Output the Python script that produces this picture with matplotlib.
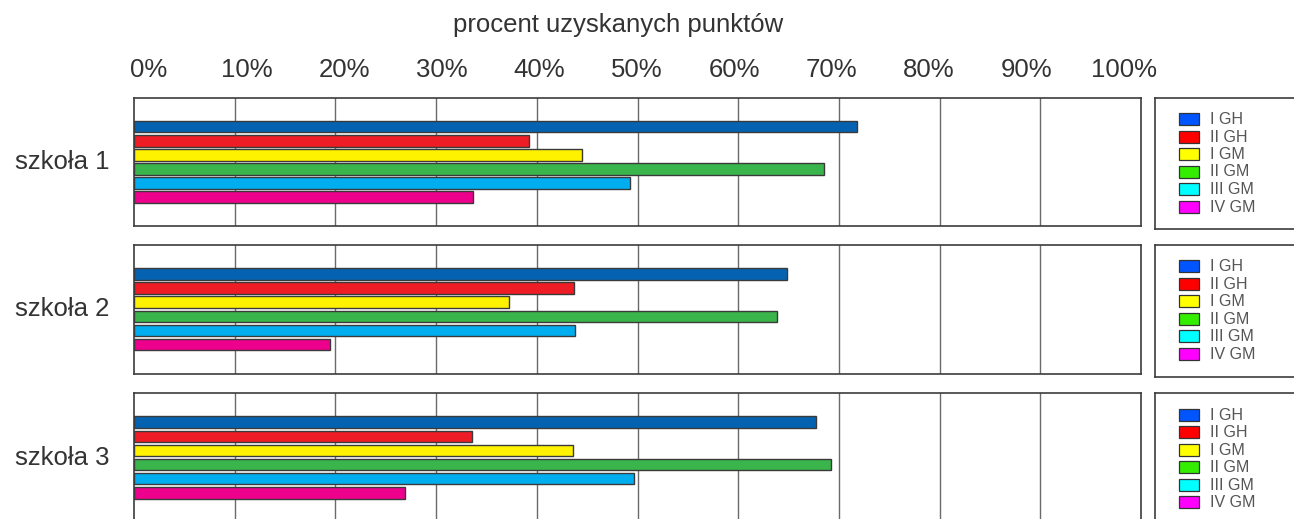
import matplotlib
matplotlib.use("Agg")
import matplotlib.pyplot as plt
from matplotlib.patches import Rectangle

plt.rcParams['font.family'] = ['Liberation Sans', 'DejaVu Sans']

schools = ["szkoła 1", "szkoła 2", "szkoła 3"]
series = ["I GH", "II GH", "I GM", "II GM", "III GM", "IV GM"]
vals_s1 = [71.8, 39.2, 44.5, 68.5, 49.3, 33.7]
vals_s2 = [64.8, 43.7, 37.2, 63.9, 43.8, 19.5]
vals_s3 = [67.7, 33.6, 43.6, 69.2, 49.7, 26.9]
values = [vals_s1, vals_s2, vals_s3]
bar_colors = ["#0562B0", "#EE1D25", "#FFF200", "#3AB54B", "#00AEEF", "#EC008C"]
legend_colors = ["#0055FF", "#FF0000", "#FFFF00", "#33EE00", "#00FFFF", "#FF00FF"]
tick_vals = list(range(0, 101, 10))
tick_labels = [f"{v}%" for v in tick_vals]
title = "procent uzyskanych punktów"

W, H = 1294, 519
fig = plt.figure(figsize=(W / 100, H / 100), dpi=100)

def fx(px):
    return px / W

def fy(py_top, h):
    return 1 - (py_top + h) / H

panel_tops = [97.7, 245.0, 393.3]
panel_h = 128.5
x0, x1 = 134, 1141

for i, top in enumerate(panel_tops):
    ax = fig.add_axes([fx(x0), fy(top, panel_h), fx(x1 - x0), panel_h / H])
    ys = list(range(len(series)))
    ax.barh(ys, values[i], height=0.815, color=bar_colors,
            edgecolor="#3a3a3a", linewidth=1.0, zorder=3)
    ax.set_xlim(0, 100)
    ax.set_ylim(7.05, -2.05)
    for t in tick_vals[1:-1]:
        ax.axvline(t, color="#6a6a6a", linewidth=1.0, zorder=1)
    ax.set_xticks([])
    ax.set_yticks([])
    for s in ax.spines.values():
        s.set_color("#3c3c3c")
        s.set_linewidth(1.2)
    fig.text(fx(62), 1 - (top + panel_h / 2) / H, schools[i], fontsize=18.5,
             color="#333333", ha="center", va="center")

    # legend box
    lax = fig.add_axes([fx(1155), fy(top, 131.5), fx(160), 131.5 / H])
    lax.set_xlim(0, 160)
    lax.set_ylim(131.5, 0)
    lax.set_xticks([])
    lax.set_yticks([])
    for s in lax.spines.values():
        s.set_color("#3c3c3c")
        s.set_linewidth(1.2)
    for k, name in enumerate(series):
        cy = 21.3 + k * 17.5
        lax.add_patch(Rectangle((24, cy - 6), 20, 12, facecolor=legend_colors[k],
                                edgecolor="#333333", linewidth=0.9))
        lax.text(55, cy + 0.5, name, fontsize=11.5, color="#555555",
                 ha="left", va="center")

# top tick labels
tax = fig.add_axes([fx(149), fy(60, 20), fx(1124 - 149), 20 / H])
tax.set_xlim(0, 100)
tax.axis("off")
for v, lab in zip(tick_vals, tick_labels):
    tax.text(v, 0.5, lab, fontsize=18.5, color="#333333", ha="center", va="center",
             transform=tax.get_xaxis_transform())

fig.text(fx(618), 1 - 25 / H, title, fontsize=18.5, color="#333333",
         ha="center", va="center")

fig.savefig("out.png", dpi=100, facecolor="white")
